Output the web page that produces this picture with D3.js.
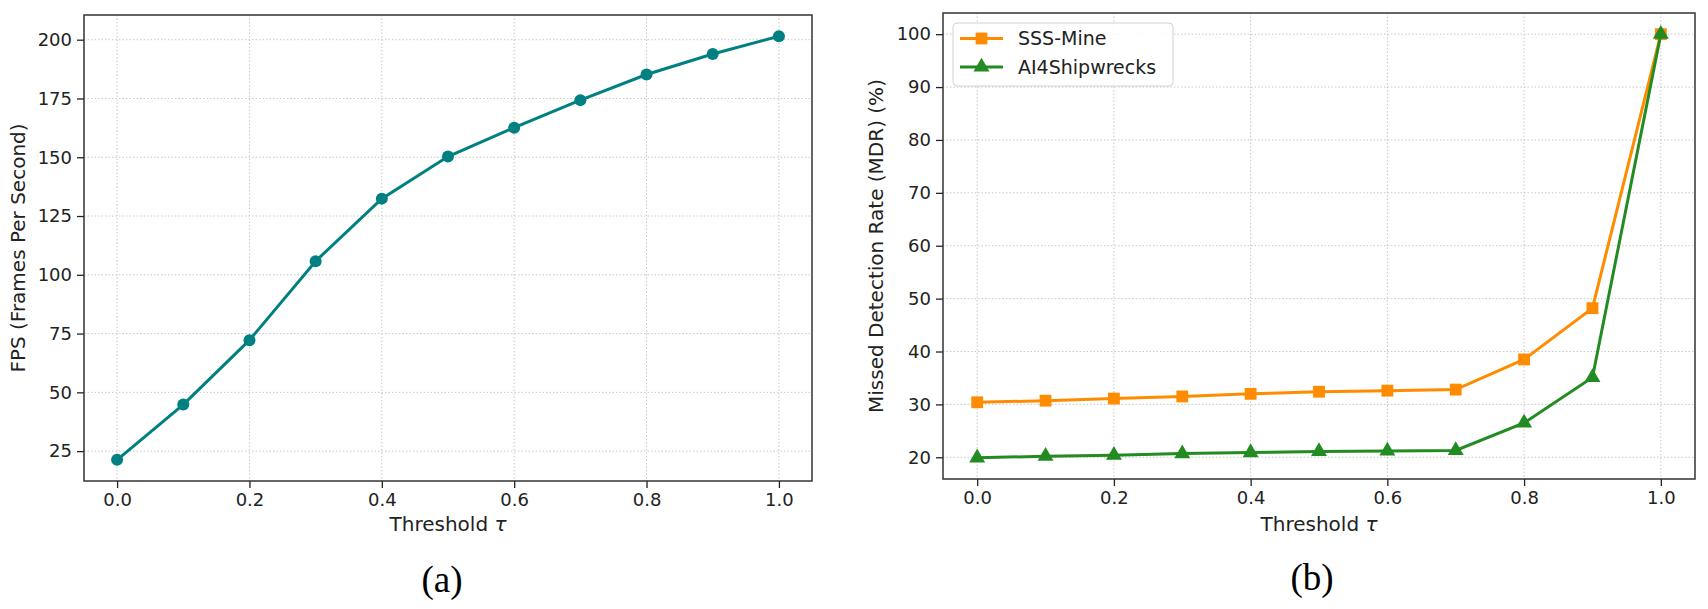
<!DOCTYPE html>
<html>
<head>
<meta charset="utf-8">
<script src="https://cdn.jsdelivr.net/npm/d3@7"></script>
<style>
  body { margin: 0; background: #fff; }
  svg { display: block; font-family: "DejaVu Sans", sans-serif; }
  .grid line { stroke: #c8c8c8; stroke-width: 1; stroke-dasharray: 1.5 2; }
</style>
</head>
<body>
<script>
const thresholds = [0, 0.1, 0.2, 0.3, 0.4, 0.5, 0.6, 0.7, 0.8, 0.9, 1.0]
const fps = [21.3, 44.8, 72.2, 105.8, 132.4, 150.3, 162.6, 174.3, 185.2, 193.9, 201.5]
const sssMine = [30.4, 30.7, 31.1, 31.5, 32.0, 32.4, 32.6, 32.8, 38.5, 48.2, 100]
const ai4Ship = [19.9, 20.2, 20.4, 20.7, 20.9, 21.1, 21.2, 21.3, 26.5, 35.1, 100]
const xTicks = [0, 0.2, 0.4, 0.6, 0.8, 1.0]
const fpsTicks = [25, 50, 75, 100, 125, 150, 175, 200]
const mdrTicks = [20, 30, 40, 50, 60, 70, 80, 90, 100]

const W = 1708, H = 609
const svg = d3.select("body").append("svg").attr("width", W).attr("height", H)

// matplotlib-style 5% margins around the data
const padded = (lo, hi) => { const m = (hi - lo) * 0.05; return [lo - m, hi + m] }

function panel(box, yDomain, yTicks, ylabel, ylabelX) {
    const x = d3.scaleLinear().domain(padded(0, 1)).range([box.left, box.right])
    const y = d3.scaleLinear().domain(yDomain).range([box.bottom, box.top])
    const g = svg.append("g")

    const grid = g.append("g").attr("class", "grid")
    grid.selectAll(".gx").data(xTicks).enter().append("line")
        .attr("x1", x).attr("x2", x).attr("y1", box.top).attr("y2", box.bottom)
    grid.selectAll(".gy").data(yTicks).enter().append("line")
        .attr("y1", y).attr("y2", y).attr("x1", box.left).attr("x2", box.right)

    const xa = g.append("g").attr("transform", `translate(0,${box.bottom})`)
        .call(d3.axisBottom(x).tickValues(xTicks).tickFormat(d3.format(".1f")).tickSize(7).tickPadding(5))
    const ya = g.append("g").attr("transform", `translate(${box.left},0)`)
        .call(d3.axisLeft(y).tickValues(yTicks).tickFormat(d3.format("d")).tickSize(7).tickPadding(5))
    for (const a of [xa, ya]) {
        a.select(".domain").remove()
        a.selectAll("line").attr("stroke", "#222").attr("stroke-width", 1.3)
        a.selectAll("text").attr("font-size", 18).attr("fill", "#222")
            .attr("font-family", "DejaVu Sans")
    }

    g.append("rect").attr("x", box.left).attr("y", box.top)
        .attr("width", box.right - box.left).attr("height", box.bottom - box.top)
        .attr("fill", "none").attr("stroke", "#333").attr("stroke-width", 1.5)

    g.append("text").attr("x", (box.left + box.right) / 2).attr("y", 531)
        .attr("text-anchor", "middle").attr("font-size", 20).attr("fill", "#222")
        .text("Threshold ")
        .append("tspan").attr("font-style", "italic").text("τ")

    g.append("text")
        .attr("transform", `translate(${ylabelX},${(box.top + box.bottom) / 2}) rotate(-90)`)
        .attr("text-anchor", "middle").attr("font-size", 20).attr("fill", "#222")
        .text(ylabel)

    return { x, y, g }
}

// (a) FPS
const left = panel({ left: 84, right: 812, top: 15, bottom: 481 },
    padded(d3.min(fps), d3.max(fps)), fpsTicks, "FPS (Frames Per Second)", 25)
const fpsPts = thresholds.map((t, i) => [t, fps[i]])
left.g.append("path").datum(fpsPts)
    .attr("d", d3.line().x(d => left.x(d[0])).y(d => left.y(d[1])))
    .attr("fill", "none").attr("stroke", "#008080").attr("stroke-width", 3)
left.g.selectAll(".dot").data(fpsPts).enter().append("circle")
    .attr("cx", d => left.x(d[0])).attr("cy", d => left.y(d[1])).attr("r", 6)
    .attr("fill", "#008080")

// (b) MDR
const allMdr = sssMine.concat(ai4Ship)
const right = panel({ left: 943, right: 1695, top: 13, bottom: 479 },
    padded(d3.min(allMdr), d3.max(allMdr)), mdrTicks, "Missed Detection Rate (MDR) (%)", 883)

const series = [
    { name: "SSS-Mine", values: sssMine, color: "#ff8c00", symbol: d3.symbolSquare, size: 140 },
    { name: "AI4Shipwrecks", values: ai4Ship, color: "#228b22", symbol: d3.symbolTriangle, size: 110 }
]
series.forEach(s => {
    const pts = thresholds.map((t, i) => [t, s.values[i]])
    right.g.append("path").datum(pts)
        .attr("d", d3.line().x(d => right.x(d[0])).y(d => right.y(d[1])))
        .attr("fill", "none").attr("stroke", s.color).attr("stroke-width", 3)
    right.g.selectAll(null).data(pts).enter().append("path")
        .attr("transform", d => `translate(${right.x(d[0])},${right.y(d[1])})`)
        .attr("d", d3.symbol(s.symbol, s.size)).attr("fill", s.color)
})

// legend
const lg = right.g.append("g").attr("transform", "translate(953,23)")
lg.append("rect").attr("width", 220).attr("height", 63).attr("rx", 4)
    .attr("fill", "#fff").attr("fill-opacity", 0.85).attr("stroke", "#d0d0d0")
series.forEach((s, i) => {
    const row = lg.append("g").attr("transform", `translate(0,${15.5 + i * 28.5})`)
    row.append("line").attr("x1", 7).attr("x2", 50).attr("stroke", s.color).attr("stroke-width", 3)
    row.append("path").attr("transform", "translate(28.5,0)")
        .attr("d", d3.symbol(s.symbol, s.size)).attr("fill", s.color)
    row.append("text").attr("x", 65).attr("dy", "0.35em").attr("font-size", 19)
        .attr("fill", "#222").text(s.name)
})

// panel captions
svg.append("text").attr("x", 442).attr("y", 592).attr("text-anchor", "middle")
    .attr("font-family", "Liberation Serif, serif").attr("font-size", 37).text("(a)")
svg.append("text").attr("x", 1312).attr("y", 590).attr("text-anchor", "middle")
    .attr("font-family", "Liberation Serif, serif").attr("font-size", 37).text("(b)")
</script>
</body>
</html>
